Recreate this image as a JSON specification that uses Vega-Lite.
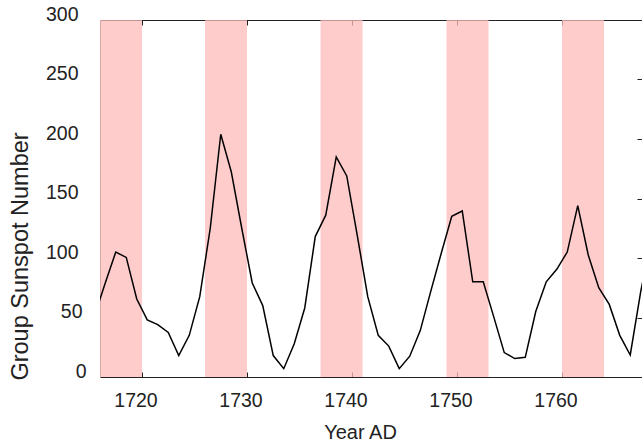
{
  "$schema": "https://vega.github.io/schema/vega-lite/v6.json",
  "width": 542,
  "height": 357,
  "autosize": {"type": "none"},
  "padding": {"left": 100, "top": 20, "right": 0, "bottom": 68},
  "background": "white",
  "config": {"view": {"stroke": null}, "axis": {"grid": false}},
  "datasets": {
    "bands": [
      {"start": 1716, "end": 1720},
      {"start": 1726, "end": 1730},
      {"start": 1737, "end": 1741},
      {"start": 1749, "end": 1753},
      {"start": 1760, "end": 1764}
    ],
    "gsn": [
      {"year": 1715.5, "gsn": 52},
      {"year": 1716.5, "gsn": 79},
      {"year": 1717.5, "gsn": 105},
      {"year": 1718.5, "gsn": 100.5},
      {"year": 1719.5, "gsn": 65.5},
      {"year": 1720.5, "gsn": 48},
      {"year": 1721.5, "gsn": 44},
      {"year": 1722.5, "gsn": 37.5},
      {"year": 1723.5, "gsn": 18},
      {"year": 1724.5, "gsn": 35},
      {"year": 1725.5, "gsn": 67.5},
      {"year": 1726.5, "gsn": 125},
      {"year": 1727.5, "gsn": 204},
      {"year": 1728.5, "gsn": 172.5},
      {"year": 1729.5, "gsn": 125},
      {"year": 1730.5, "gsn": 79},
      {"year": 1731.5, "gsn": 60},
      {"year": 1732.5, "gsn": 18},
      {"year": 1733.5, "gsn": 7},
      {"year": 1734.5, "gsn": 28},
      {"year": 1735.5, "gsn": 58},
      {"year": 1736.5, "gsn": 118},
      {"year": 1737.5, "gsn": 136},
      {"year": 1738.5, "gsn": 185},
      {"year": 1739.5, "gsn": 169},
      {"year": 1740.5, "gsn": 119},
      {"year": 1741.5, "gsn": 67.5},
      {"year": 1742.5, "gsn": 35},
      {"year": 1743.5, "gsn": 26},
      {"year": 1744.5, "gsn": 7},
      {"year": 1745.5, "gsn": 17.5},
      {"year": 1746.5, "gsn": 39},
      {"year": 1747.5, "gsn": 72},
      {"year": 1748.5, "gsn": 104},
      {"year": 1749.5, "gsn": 135},
      {"year": 1750.5, "gsn": 139.5},
      {"year": 1751.5, "gsn": 80},
      {"year": 1752.5, "gsn": 80},
      {"year": 1753.5, "gsn": 50.5},
      {"year": 1754.5, "gsn": 20.5},
      {"year": 1755.5, "gsn": 15.5},
      {"year": 1756.5, "gsn": 16.5},
      {"year": 1757.5, "gsn": 55},
      {"year": 1758.5, "gsn": 80},
      {"year": 1759.5, "gsn": 90.5},
      {"year": 1760.5, "gsn": 105},
      {"year": 1761.5, "gsn": 144},
      {"year": 1762.5, "gsn": 102.5},
      {"year": 1763.5, "gsn": 75},
      {"year": 1764.5, "gsn": 61},
      {"year": 1765.5, "gsn": 35},
      {"year": 1766.5, "gsn": 18.5},
      {"year": 1767.5, "gsn": 72},
      {"year": 1768.5, "gsn": 115}
    ]
  },
  "layer": [
    {
      "data": {"name": "bands"},
      "mark": {"type": "rect", "color": "#ffbbbb", "opacity": 0.75},
      "encoding": {
        "x": {
          "field": "start",
          "type": "quantitative",
          "scale": {"domain": [1716, 1767.619], "nice": false, "zero": false},
          "axis": {
            "orient": "bottom",
            "values": [1720, 1730, 1740, 1750, 1760],
            "format": "d",
            "grid": false,
            "domain": true,
            "domainColor": "#222",
            "domainWidth": 1,
            "ticks": true,
            "tickSize": -5,
            "tickColor": "#222",
            "labelPadding": 34.2,
            "labelBaseline": "alphabetic",
            "labelAlign": "center",
            "labelOffset": -6.5,
            "labelFont": "Liberation Sans",
            "labelFontSize": 19.5,
            "labelColor": "#222",
            "title": "Year AD",
            "titleFont": "Liberation Sans",
            "titleFontSize": 20,
            "titleFontWeight": "normal",
            "titleColor": "#222",
            "titleX": 260,
            "titleY": 61,
            "titleBaseline": "alphabetic",
            "titleAlign": "center"
          }
        },
        "x2": {"field": "end"},
        "y": {
          "datum": 0,
          "type": "quantitative",
          "scale": {"domain": [0, 300], "nice": false},
          "axis": {
            "orient": "left",
            "values": [0, 50, 100, 150, 200, 250, 300],
            "grid": false,
            "domain": true,
            "domainColor": "#777",
            "domainWidth": 1,
            "ticks": false,
            "labelPadding": {
              "condition": [
                {"test": "datum.value < 10", "value": 14},
                {"test": "datum.value < 100", "value": 18}
              ],
              "value": 22
            },
            "labelBaseline": "alphabetic",
            "labelAlign": "right",
            "labelFont": "Liberation Sans",
            "labelFontSize": 19.5,
            "labelColor": "#222",
            "title": "Group Sunspot Number",
            "titleFont": "Liberation Sans",
            "titleFontSize": 23.5,
            "titleFontWeight": "normal",
            "titleColor": "#222",
            "titleX": -72.3,
            "titleY": 236,
            "titleBaseline": "alphabetic",
            "titleAlign": "center",
            "titleAngle": -90
          }
        },
        "y2": {"datum": 300}
      }
    },
    {
      "data": {"name": "gsn"},
      "mark": {"type": "line", "color": "black", "strokeWidth": 1.5, "clip": true},
      "encoding": {
        "x": {
          "field": "year",
          "type": "quantitative",
          "scale": {"domain": [1716, 1767.619], "nice": false, "zero": false},
          "axis": {
            "orient": "top",
            "values": [1720, 1730, 1740, 1750, 1760],
            "labels": false,
            "title": null,
            "grid": false,
            "domain": true,
            "domainColor": "#222",
            "domainWidth": 1,
            "ticks": true,
            "tickSize": -5,
            "tickColor": "#222"
          }
        },
        "y": {
          "field": "gsn",
          "type": "quantitative",
          "scale": {"domain": [0, 300], "nice": false},
          "axis": {
            "orient": "right",
            "values": [0, 50, 100, 150, 200, 250, 300],
            "labels": false,
            "title": null,
            "grid": false,
            "domain": false,
            "ticks": true,
            "tickSize": -5,
            "tickColor": "#222"
          }
        }
      }
    }
  ],
  "resolve": {"axis": {"x": "independent", "y": "independent"}}
}
